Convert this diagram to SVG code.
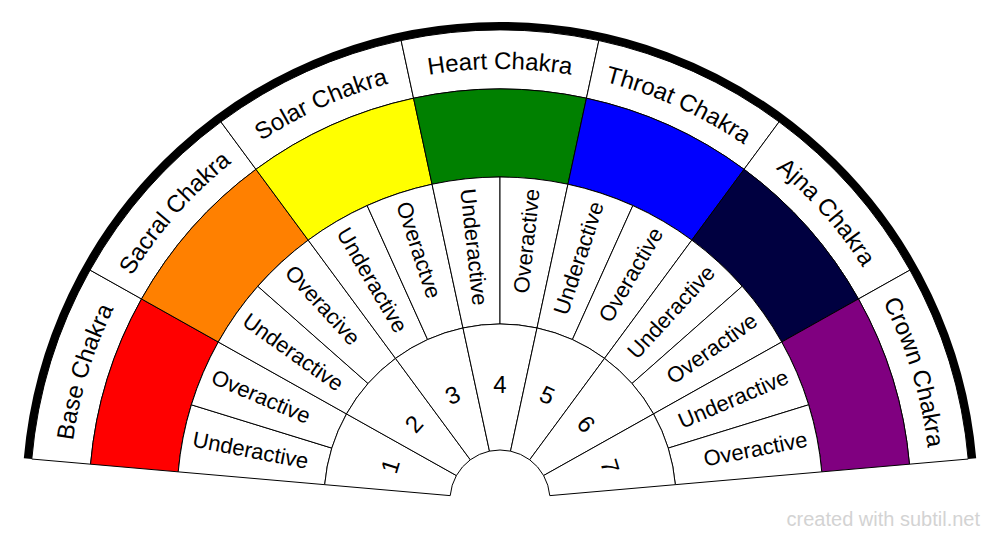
<svg xmlns="http://www.w3.org/2000/svg" xmlns:xlink="http://www.w3.org/1999/xlink" width="1000" height="540" viewBox="0 0 1000 540">
<style>
.seg{stroke:#000;stroke-width:1;stroke-linejoin:round}
.w{fill:#fff}
text{font-family:"Liberation Sans",Arial,Helvetica,sans-serif;fill:#000}
.lab{font-size:24px}
.sub{font-size:22px}
.num{font-size:24px}
.wm{font-size:20px;fill:#d3d3d3}
</style>
<defs>
<path id="lab" d="M222.96,169.83 A431,431 0 0,1 777.04,169.83"/>
</defs>
<rect width="1000" height="540" fill="#fff"/>

<g id="base">
<path class="seg w" d="M31.79,459.04 A470,470 0 0 1 90.07,270.09 L141.53,298.95 A411,411 0 0 0 90.56,464.18 Z"/>
<path class="seg" fill="#ff0000" d="M90.56,464.18 A411,411 0 0 1 141.53,298.95 L218.28,342.00 A323,323 0 0 0 178.23,471.85 Z"/>
<path class="seg w" d="M178.23,471.85 A323,323 0 0 1 191.35,404.79 L331.82,448.12 A176,176 0 0 0 324.67,484.66 Z"/>
<path class="seg w" d="M191.35,404.79 A323,323 0 0 1 218.28,342.00 L346.49,413.91 A176,176 0 0 0 331.82,448.12 Z"/>
<path class="seg w" d="M324.67,484.66 A176,176 0 0 1 346.49,413.91 L456.39,475.54 A50,50 0 0 0 450.19,495.64 Z"/>
<text class="lab" transform="rotate(-72.857 500 500)"><textPath xlink:href="#lab" href="#lab" startOffset="50%" text-anchor="middle">Base Chakra</textPath></text>
<text class="sub" transform="rotate(11.0714 500 500)" x="187" y="500" dy="0.3em">Underactive</text>
<text class="sub" transform="rotate(23.2143 500 500)" x="187" y="500" dy="0.3em">Overactive</text>
<text class="num" transform="rotate(-72.857 500 500)" x="500" y="385" dy="0.35em" text-anchor="middle">1</text>
</g>

<g id="sacral">
<path class="seg w" d="M90.07,270.09 A470,470 0 0 1 220.90,121.84 L255.94,169.31 A411,411 0 0 0 141.53,298.95 Z"/>
<path class="seg" fill="#ff8000" d="M141.53,298.95 A411,411 0 0 1 255.94,169.31 L308.20,240.12 A323,323 0 0 0 218.28,342.00 Z"/>
<path class="seg w" d="M218.28,342.00 A323,323 0 0 1 257.82,286.28 L368.04,383.54 A176,176 0 0 0 346.49,413.91 Z"/>
<path class="seg w" d="M257.82,286.28 A323,323 0 0 1 308.20,240.12 L395.49,358.39 A176,176 0 0 0 368.04,383.54 Z"/>
<path class="seg w" d="M346.49,413.91 A176,176 0 0 1 395.49,358.39 L470.31,459.77 A50,50 0 0 0 456.39,475.54 Z"/>
<text class="lab" transform="rotate(-48.571 500 500)"><textPath xlink:href="#lab" href="#lab" startOffset="50%" text-anchor="middle">Sacral Chakra</textPath></text>
<text class="sub" transform="rotate(35.3571 500 500)" x="187" y="500" dy="0.3em">Underactive</text>
<text class="sub" transform="rotate(47.5 500 500)" x="187" y="500" dy="0.3em">Overacive</text>
<text class="num" transform="rotate(-48.571 500 500)" x="500" y="385" dy="0.35em" text-anchor="middle">2</text>
</g>

<g id="solar">
<path class="seg w" d="M220.90,121.84 A470,470 0 0 1 401.14,40.52 L413.55,98.20 A411,411 0 0 0 255.94,169.31 Z"/>
<path class="seg" fill="#ffff00" d="M255.94,169.31 A411,411 0 0 1 413.55,98.20 L432.06,184.23 A323,323 0 0 0 308.20,240.12 Z"/>
<path class="seg w" d="M308.20,240.12 A323,323 0 0 1 367.15,205.58 L427.61,339.58 A176,176 0 0 0 395.49,358.39 Z"/>
<path class="seg w" d="M367.15,205.58 A323,323 0 0 1 432.06,184.23 L462.98,327.94 A176,176 0 0 0 427.61,339.58 Z"/>
<path class="seg w" d="M395.49,358.39 A176,176 0 0 1 462.98,327.94 L489.48,451.12 A50,50 0 0 0 470.31,459.77 Z"/>
<text class="lab" transform="rotate(-24.286 500 500)"><textPath xlink:href="#lab" href="#lab" startOffset="50%" text-anchor="middle">Solar Chakra</textPath></text>
<text class="sub" transform="rotate(59.6429 500 500)" x="187" y="500" dy="0.3em">Underactive</text>
<text class="sub" transform="rotate(71.7857 500 500)" x="187" y="500" dy="0.3em">Overactve</text>
<text class="num" transform="rotate(-24.286 500 500)" x="500" y="385" dy="0.35em" text-anchor="middle">3</text>
</g>

<g id="heart">
<path class="seg w" d="M401.14,40.52 A470,470 0 0 1 598.86,40.52 L586.45,98.20 A411,411 0 0 0 413.55,98.20 Z"/>
<path class="seg" fill="#008000" d="M413.55,98.20 A411,411 0 0 1 586.45,98.20 L567.94,184.23 A323,323 0 0 0 432.06,184.23 Z"/>
<path class="seg w" d="M432.06,184.23 A323,323 0 0 1 500,177 L500,324 A176,176 0 0 0 462.98,327.94 Z"/>
<path class="seg w" d="M500,177 A323,323 0 0 1 567.94,184.23 L537.02,327.94 A176,176 0 0 0 500,324 Z"/>
<path class="seg w" d="M462.98,327.94 A176,176 0 0 1 537.02,327.94 L510.52,451.12 A50,50 0 0 0 489.48,451.12 Z"/>
<text class="lab"><textPath xlink:href="#lab" href="#lab" startOffset="50%" text-anchor="middle">Heart Chakra</textPath></text>
<text class="sub" transform="rotate(83.9286 500 500)" x="187" y="500" dy="0.3em">Underactive</text>
<text class="sub" transform="rotate(-83.9286 500 500)" x="813" y="500" dy="0.3em" text-anchor="end">Overactive</text>
<text class="num" x="500" y="385" dy="0.35em" text-anchor="middle">4</text>
</g>

<g id="throat">
<path class="seg w" d="M598.86,40.52 A470,470 0 0 1 779.10,121.84 L744.06,169.31 A411,411 0 0 0 586.45,98.20 Z"/>
<path class="seg" fill="#0000ff" d="M586.45,98.20 A411,411 0 0 1 744.06,169.31 L691.80,240.12 A323,323 0 0 0 567.94,184.23 Z"/>
<path class="seg w" d="M567.94,184.23 A323,323 0 0 1 632.85,205.58 L572.39,339.58 A176,176 0 0 0 537.02,327.94 Z"/>
<path class="seg w" d="M632.85,205.58 A323,323 0 0 1 691.80,240.12 L604.51,358.39 A176,176 0 0 0 572.39,339.58 Z"/>
<path class="seg w" d="M537.02,327.94 A176,176 0 0 1 604.51,358.39 L529.69,459.77 A50,50 0 0 0 510.52,451.12 Z"/>
<text class="lab" transform="rotate(24.286 500 500)"><textPath xlink:href="#lab" href="#lab" startOffset="50%" text-anchor="middle">Throat Chakra</textPath></text>
<text class="sub" transform="rotate(-71.7857 500 500)" x="813" y="500" dy="0.3em" text-anchor="end">Underactive</text>
<text class="sub" transform="rotate(-59.6429 500 500)" x="813" y="500" dy="0.3em" text-anchor="end">Overactive</text>
<text class="num" transform="rotate(24.286 500 500)" x="500" y="385" dy="0.35em" text-anchor="middle">5</text>
</g>

<g id="ajna">
<path class="seg w" d="M779.10,121.84 A470,470 0 0 1 909.93,270.09 L858.47,298.95 A411,411 0 0 0 744.06,169.31 Z"/>
<path class="seg" fill="#000040" d="M744.06,169.31 A411,411 0 0 1 858.47,298.95 L781.72,342.00 A323,323 0 0 0 691.80,240.12 Z"/>
<path class="seg w" d="M691.80,240.12 A323,323 0 0 1 742.18,286.28 L631.96,383.54 A176,176 0 0 0 604.51,358.39 Z"/>
<path class="seg w" d="M742.18,286.28 A323,323 0 0 1 781.72,342.00 L653.51,413.91 A176,176 0 0 0 631.96,383.54 Z"/>
<path class="seg w" d="M604.51,358.39 A176,176 0 0 1 653.51,413.91 L543.61,475.54 A50,50 0 0 0 529.69,459.77 Z"/>
<text class="lab" transform="rotate(48.571 500 500)"><textPath xlink:href="#lab" href="#lab" startOffset="50%" text-anchor="middle">Ajna Chakra</textPath></text>
<text class="sub" transform="rotate(-47.5 500 500)" x="813" y="500" dy="0.3em" text-anchor="end">Underactive</text>
<text class="sub" transform="rotate(-35.3571 500 500)" x="813" y="500" dy="0.3em" text-anchor="end">Overactive</text>
<text class="num" transform="rotate(48.571 500 500)" x="500" y="385" dy="0.35em" text-anchor="middle">6</text>
</g>

<g id="crown">
<path class="seg w" d="M909.93,270.09 A470,470 0 0 1 968.21,459.04 L909.44,464.18 A411,411 0 0 0 858.47,298.95 Z"/>
<path class="seg" fill="#800080" d="M858.47,298.95 A411,411 0 0 1 909.44,464.18 L821.77,471.85 A323,323 0 0 0 781.72,342.00 Z"/>
<path class="seg w" d="M781.72,342.00 A323,323 0 0 1 808.65,404.79 L668.18,448.12 A176,176 0 0 0 653.51,413.91 Z"/>
<path class="seg w" d="M808.65,404.79 A323,323 0 0 1 821.77,471.85 L675.33,484.66 A176,176 0 0 0 668.18,448.12 Z"/>
<path class="seg w" d="M653.51,413.91 A176,176 0 0 1 675.33,484.66 L549.81,495.64 A50,50 0 0 0 543.61,475.54 Z"/>
<text class="lab" transform="rotate(72.857 500 500)"><textPath xlink:href="#lab" href="#lab" startOffset="50%" text-anchor="middle">Crown Chakra</textPath></text>
<text class="sub" transform="rotate(-23.2143 500 500)" x="813" y="500" dy="0.3em" text-anchor="end">Underactive</text>
<text class="sub" transform="rotate(-11.0714 500 500)" x="813" y="500" dy="0.3em" text-anchor="end">Overactive</text>
<text class="num" transform="rotate(72.857 500 500)" x="500" y="385" dy="0.35em" text-anchor="middle">7</text>
</g>

<g id="rim">
<path d="M27.80,458.69 A474,474 0 0 1 972.20,458.69" fill="none" stroke="#000" stroke-width="8"/>
</g>

<text class="wm" x="980" y="526" text-anchor="end">created with subtil.net</text>
</svg>
